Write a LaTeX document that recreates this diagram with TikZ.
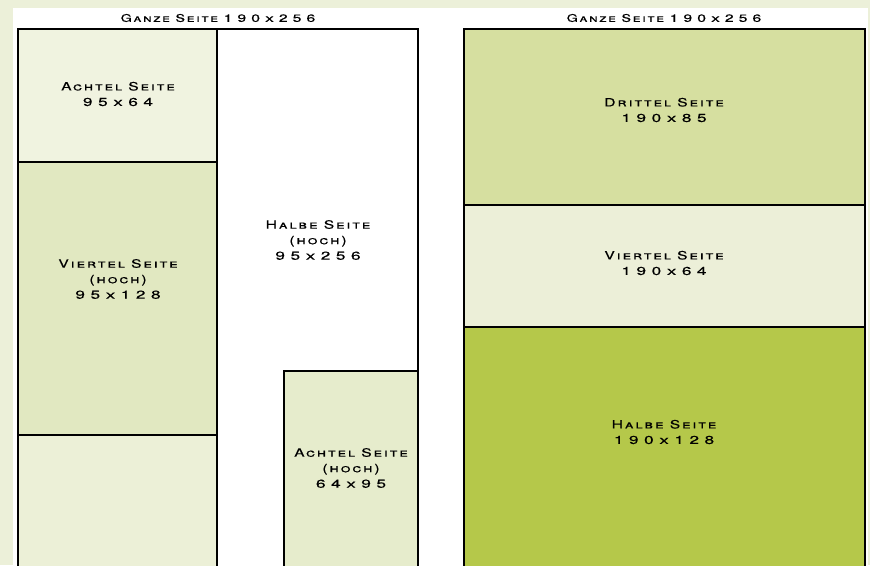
\documentclass[tikz,border=0pt]{standalone}
\usepackage{fontspec}
\setmainfont{TeX Gyre Heros}[LetterSpace=17,FakeStretch=1.35,FakeBold=0.5]
\newfontfamily\dimfont{TeX Gyre Heros}[LetterSpace=48,FakeStretch=1.5,FakeBold=0.5]
\newcommand{\dm}[1]{{\dimfont #1}}
\begin{document}
\begin{tikzpicture}[x=1pt,y=-1pt,
  frame/.style={draw=black,line width=1.6pt},
  lbl/.style={align=center,font=\fontsize{11.5}{15.5}\selectfont\scshape,text=black,inner sep=0pt},
  ttl/.style={font=\fontsize{10.5}{12}\selectfont\scshape,text=black,inner sep=0pt}]
\definecolor{bgc}{HTML}{ECF0D9}
\definecolor{cA}{HTML}{F0F3E0}
\definecolor{cV}{HTML}{E1E8C1}
\definecolor{cB}{HTML}{ECF0D7}
\definecolor{cAH}{HTML}{E6ECCC}
\definecolor{cD}{HTML}{D6DFA0}
\definecolor{cVR}{HTML}{ECEFD8}
\definecolor{cH}{HTML}{B5C84A}
\useasboundingbox (0,0) rectangle (870,565);
\fill[bgc] (0,0) rectangle (870,565);
\fill[white] (13,8) rectangle (868,566);
% left panel fills
\fill[cA] (18,29) rectangle (217,162);
\fill[cV] (18,162) rectangle (217,435);
\fill[cB] (18,435) rectangle (217,570);
\fill[cAH] (284,371) rectangle (418,570);
% right panel fills
\fill[cD] (464,29) rectangle (865,205);
\fill[cVR] (464,205) rectangle (865,327);
\fill[cH] (464,327) rectangle (865,570);
% left panel lines
\draw[frame] (18,570) -- (18,29) -- (418,29) -- (418,570);
\draw[frame] (217,29) -- (217,570);
\draw[frame] (18,162) -- (217,162);
\draw[frame] (18,435) -- (217,435);
\draw[frame] (284,570) -- (284,371) -- (418,371);
% right panel lines
\draw[frame] (464,570) -- (464,29) -- (865,29) -- (865,570);
\draw[frame] (464,205) -- (865,205);
\draw[frame] (464,327) -- (865,327);
% titles
\node[ttl] (t1) at (218,18) {Ganze Seite \dm{190x256}};
\node[ttl] (t2) at (664,18) {Ganze Seite \dm{190x256}};
% labels
\node[lbl] (achtel) at (118,94) {Achtel Seite\\\dm{95x64}};
\node[lbl] (viertelh) at (118,279) {Viertel Seite\\(hoch)\\\dm{95x128}};
\node[lbl] (halbeh) at (318,240) {Halbe Seite\\(hoch)\\\dm{95x256}};
\node[lbl] (achtelh) at (351,468) {Achtel Seite\\(hoch)\\\dm{64x95}};
\node[lbl] (drittel) at (664,110) {Drittel Seite\\\dm{190x85}};
\node[lbl] (viertel) at (664,263) {Viertel Seite\\\dm{190x64}};
\node[lbl] (halbe) at (664,432) {Halbe Seite\\\dm{190x128}};
\end{tikzpicture}
\end{document}
